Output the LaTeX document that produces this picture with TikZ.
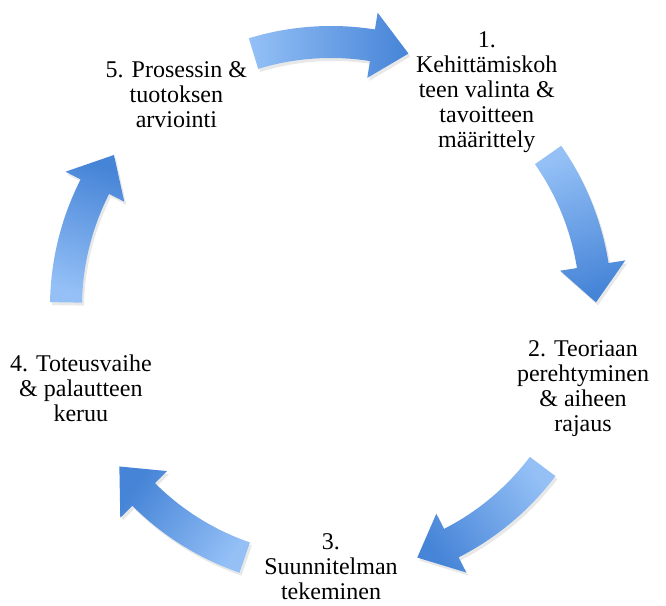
\documentclass[tikz,border=0pt]{standalone}
\usepackage{fontspec}
\setmainfont{Liberation Serif}
\usetikzlibrary{shadows}
\definecolor{arrowlight}{RGB}{148,192,246}
\definecolor{arrowdark}{RGB}{70,132,215}
\begin{document}
\begin{tikzpicture}[x=1pt, y=1pt,
  stage/.style={align=center, inner sep=0pt, font=\fontsize{24}{25}\selectfont},
  cycle arrow/.style={top color=arrowlight, bottom color=arrowdark,
    drop shadow={opacity=0.18, shadow xshift=2pt, shadow yshift=-3pt}}]
\useasboundingbox (-331,-298) rectangle (335,307);
% stages round the circle
\node[stage] (s1) at (54:265) {1.\\Kehittämiskoh\\teen valinta \&\\tavoitteen\\määrittely};
\node[stage] (s2) at (-18:265) {2. Teoriaan\\perehtyminen\\\& aiheen\\rajaus};
\node[stage] (s3) at (-90:260) {3.\\Suunnitelman\\tekeminen};
\node[stage] (s4) at (198:263) {4. Toteusvaihe\\\& palautteen\\keruu};
\node[stage] (s5) at (126:263) {5. Prosessin \&\\tuotoksen\\arviointi};
% block arrows between the stages
\foreach \a [evaluate=\a as \t using \a+17, evaluate=\a as \b using \a-9,
             evaluate=\a as \p using \a-17] in {90,18,-54,-126,-198}
  \shade[cycle arrow, shading angle=\a]
    (\t:281) arc[start angle=\t, end angle=\b, radius=281]
    -- (\b:298) -- (\p:265) -- (\b:232) -- (\b:249)
    arc[start angle=\b, end angle=\t, radius=249] -- cycle;
\end{tikzpicture}
\end{document}
